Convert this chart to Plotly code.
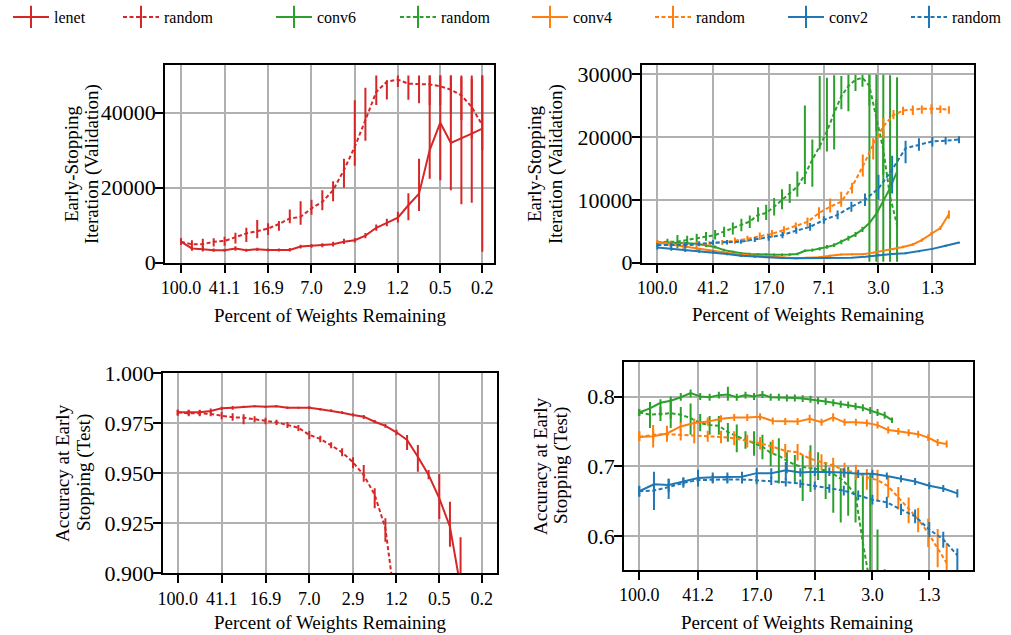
import plotly.graph_objects as go

# ---------------- data ----------------
# Percent of weights remaining at each pruning round
lenet_pct = [100.0, 80.04, 64.06, 51.28, 41.05, 32.87, 26.32, 21.07, 16.88, 13.52, 10.83, 8.68, 6.95, 5.57,
             4.47, 3.58, 2.87, 2.31, 1.85, 1.49, 1.19, 0.960, 0.772, 0.621, 0.500, 0.403, 0.325, 0.263, 0.212]
conv2_pct = [100.0, 80.10, 64.16, 51.41, 41.20, 33.02, 26.47, 21.23, 17.03, 13.66, 10.97, 8.81, 7.08, 5.69,
             4.57, 3.68, 2.97, 2.39, 1.93, 1.56, 1.26, 1.02, 0.825]
conv4_pct = [100.0, 81.08, 65.84, 53.55, 43.63, 35.61, 29.13, 23.88, 19.62, 16.16, 13.35, 11.06, 9.18, 7.65,
             6.40, 5.37, 4.52, 3.81, 3.23, 2.75, 2.34, 2.01, 1.72, 1.49, 1.28, 1.11, 0.969]
conv6_pct = [100.0, 85.07, 72.62, 62.21, 53.46, 46.10, 39.88, 34.60, 30.10, 26.27, 22.98, 20.15, 17.71, 15.60,
             13.77, 12.18, 10.79, 9.57, 8.50, 7.56, 6.74, 6.01, 5.36, 4.79, 4.28, 3.83, 3.43, 3.07, 2.75, 2.47, 2.21]

lenet_tick_labels = ["100.0", "41.1", "16.9", "7.0", "2.9", "1.2", "0.5", "0.2"]
conv_tick_labels = ["100.0", "41.2", "17.0", "7.1", "3.0", "1.3"]

# ---- LeNet: early-stopping iteration (validation) ----
lenet_es = [5600, 3800, 3600, 3300, 3300, 3800, 3300, 3600, 3400, 3400, 3400, 4300, 4500, 4600, 4900, 5600,
            6000, 7200, 9300, 10600, 12000, 15300, 18400, 30000, 37300, 31900, 33100, 34400, 35700]
lenet_es_lo = [4800, 3200, 3000, 2900, 2900, 3200, 2900, 3200, 3000, 3000, 3000, 3800, 4000, 4100, 4300, 5000,
               5400, 6500, 8500, 9700, 10700, 11300, 13800, 22400, 22000, 19300, 15600, 16000, 2900]
lenet_es_hi = [6500, 4300, 4300, 3800, 3700, 4400, 3700, 4000, 3800, 3800, 3900, 4800, 5000, 5200, 5600, 6400,
               6600, 7900, 10200, 11700, 13600, 18500, 27700, 49900, 49900, 49900, 49500, 49000, 49900]
lenet_es_rand = [5600, 4900, 4900, 5600, 5800, 6900, 7800, 8400, 9100, 10300, 11800, 12200, 14500, 16200, 19300,
                 24700, 30900, 38000, 45500, 48200, 48800, 47700, 47700, 47500, 47000, 46100, 44600, 41500, 36600]
lenet_es_rand_lo = [4800, 3400, 3400, 4300, 4500, 5100, 5500, 6500, 7400, 8500, 10500, 10100, 12800, 14000, 16400,
                    20000, 25800, 32500, 42000, 43500, 46800, 43400, 42500, 42000, 42000, 40000, 38000, 33000, 30000]
lenet_es_rand_hi = [6500, 6000, 6400, 6500, 6900, 8000, 9300, 11400, 10500, 11100, 14200, 16400, 16800, 19300, 21700,
                    27700, 43300, 46600, 49900, 48600, 49900, 49900, 49900, 49900, 49900, 49900, 49900, 49900, 49900]

# ---- LeNet: accuracy at early stopping (test) ----
lenet_acc = [0.9805, 0.9805, 0.9805, 0.9812, 0.9825, 0.9828, 0.9833, 0.9835, 0.9833, 0.9835, 0.9828, 0.9828,
             0.9828, 0.9820, 0.9813, 0.9803, 0.9792, 0.9783, 0.9758, 0.9737, 0.9705, 0.9667, 0.9583, 0.9492,
             0.9375, 0.9233, 0.8930, 0.8600, 0.8300]
lenet_acc_lo = [0.9788, 0.9790, 0.9790, 0.9800, 0.9815, 0.9818, 0.9826, 0.9830, 0.9826, 0.9830, 0.9822, 0.9823,
                0.9820, 0.9814, 0.9806, 0.9796, 0.9784, 0.9772, 0.9750, 0.9728, 0.9690, 0.9617, 0.9508, 0.9470,
                0.9272, 0.9133, 0.8600, 0.8300, 0.8000]
lenet_acc_hi = [0.9818, 0.9818, 0.9818, 0.9824, 0.9833, 0.9836, 0.9838, 0.9840, 0.9838, 0.9840, 0.9834, 0.9833,
                0.9836, 0.9826, 0.9820, 0.9810, 0.9800, 0.9792, 0.9766, 0.9746, 0.9718, 0.9692, 0.9642, 0.9517,
                0.9497, 0.9358, 0.9180, 0.8850, 0.8600]
lenet_acc_rand = [0.9805, 0.9800, 0.9800, 0.9797, 0.9788, 0.9780, 0.9778, 0.9770, 0.9763, 0.9755, 0.9742, 0.9728,
                  0.9692, 0.9672, 0.9640, 0.9605, 0.9555, 0.9492, 0.9392, 0.9225, 0.8800, 0.8400, 0.8000, 0.7600,
                  0.7200, 0.6800, 0.6400, 0.6000, 0.5600]
lenet_acc_rand_lo = [0.9790, 0.9785, 0.9785, 0.9785, 0.9770, 0.9763, 0.9745, 0.9755, 0.9745, 0.9742, 0.9727, 0.9712,
                     0.9670, 0.9655, 0.9625, 0.9585, 0.9525, 0.9458, 0.9325, 0.9158, 0.8700, 0.8300, 0.7900, 0.7500,
                     0.7100, 0.6700, 0.6300, 0.5900, 0.5500]
lenet_acc_rand_hi = [0.9818, 0.9815, 0.9815, 0.9810, 0.9808, 0.9800, 0.9795, 0.9785, 0.9778, 0.9768, 0.9757, 0.9742,
                     0.9712, 0.9688, 0.9655, 0.9625, 0.9580, 0.9542, 0.9425, 0.9275, 0.8900, 0.8500, 0.8100, 0.7700,
                     0.7300, 0.6900, 0.6500, 0.6100, 0.5700]

# ---- Conv nets: early-stopping iteration (validation) ----
conv2_es = [2400, 2200, 2000, 1850, 1700, 1400, 1100, 950, 850, 750, 700, 700, 700, 750, 800, 950, 1200, 1400,
            1500, 1800, 2200, 2700, 3200]
conv2_es_lo = [2100, 1900, 1700, 1600, 1450, 1200, 900, 800, 700, 600, 600, 600, 600, 650, 700, 850, 1050, 1250,
               1350, 1650, 2050, 2550, 3050]
conv2_es_hi = [2700, 2500, 2300, 2100, 1950, 1600, 1300, 1100, 1000, 900, 800, 800, 800, 850, 900, 1050, 1350, 1550,
               1650, 1950, 2350, 2850, 3350]
conv2_es_rand = [2800, 2800, 2800, 3000, 3200, 3250, 3350, 3700, 4000, 4400, 5100, 5700, 6800, 7600, 8900, 10000,
                 11800, 14800, 18200, 18800, 19300, 19400, 19600]
conv2_es_rand_lo = [2500, 2400, 2300, 2600, 2800, 2900, 3000, 3300, 3500, 3900, 4600, 5100, 6200, 6900, 8100, 9000,
                    10000, 11000, 15800, 17800, 18500, 18800, 19000]
conv2_es_rand_hi = [3100, 3200, 3300, 3400, 3600, 3600, 3700, 4100, 4500, 4900, 5600, 6300, 7400, 8300, 9700, 11000,
                    14000, 17000, 19400, 19800, 20000, 20000, 20100]

conv4_es = [3200, 2900, 2500, 2200, 1900, 1650, 1400, 1200, 1050, 950, 850, 700, 800, 850, 1100, 1300, 1330, 1350,
            1600, 1900, 2150, 2500, 2900, 3600, 4600, 5500, 7700]
conv4_es_lo = [2900, 2600, 2200, 1900, 1650, 1400, 1200, 1000, 900, 800, 700, 550, 650, 700, 950, 1150, 1180, 1200,
               1450, 1750, 2000, 2300, 2700, 3350, 4300, 5200, 7000]
conv4_es_hi = [3500, 3200, 2800, 2500, 2150, 1900, 1600, 1400, 1200, 1100, 1000, 850, 950, 1000, 1250, 1450, 1480,
               1500, 1750, 2050, 2300, 2700, 3100, 3850, 4900, 5800, 8300]
conv4_es_rand = [3300, 3000, 2800, 2800, 3000, 3200, 3500, 3800, 4200, 4600, 5200, 5800, 6500, 7900, 8900, 9700,
                 12100, 15300, 18800, 21700, 23500, 24200, 24400, 24500, 24500, 24500, 24300]
conv4_es_rand_lo = [3000, 2500, 2200, 2300, 2600, 2800, 3000, 3300, 3600, 4000, 4600, 5200, 5800, 7000, 8000, 8900,
                    11000, 13700, 16400, 19800, 22800, 23500, 23500, 23700, 23600, 23800, 23700]
conv4_es_rand_hi = [3600, 3500, 3400, 3300, 3400, 3600, 4000, 4300, 4800, 5200, 5800, 6400, 7200, 8800, 10200, 11300,
                    12700, 17200, 19800, 23000, 24300, 24800, 25000, 25000, 25200, 25000, 24900]

conv6_es = [3200, 3200, 3150, 3100, 3000, 2800, 2500, 2000, 1700, 1500, 1400, 1300, 1300, 1250, 1250, 1300, 1400,
            1900, 2000, 2200, 2500, 2800, 3300, 3900, 4500, 5300, 6300, 7800, 9800, 11900, 14500]
conv6_es_lo = [2900, 2900, 2850, 2800, 2700, 2500, 2250, 1800, 1500, 1300, 1200, 1100, 1100, 1050, 1050, 1100, 1200,
               1700, 1750, 1950, 2200, 2500, 2950, 3500, 4100, 4900, 150, 150, 150, 150, 150]
conv6_es_hi = [3500, 3500, 3450, 3400, 3300, 3100, 2750, 2200, 1900, 1700, 1600, 1500, 1500, 1450, 1450, 1500, 1600,
               2100, 2250, 2450, 2800, 3100, 3650, 4300, 4900, 5700, 29900, 29900, 29900, 29800, 29500]
conv6_es_rand = [3200, 3350, 3350, 3600, 3900, 4150, 4400, 4950, 5500, 6000, 6550, 7600, 7900, 8900, 10000, 11050,
                 12100, 14000, 16400, 18500, 20900, 23800, 26500, 28100, 29100, 29400, 28100, 23000, 18000, 10500, 6000]
conv6_es_rand_lo = [3000, 2700, 2300, 2900, 3300, 3500, 3700, 4100, 4500, 5000, 5500, 6500, 6800, 7500, 8500, 9500,
                    10500, 12500, 12100, 18000, 17700, 18000, 24400, 24100, 27300, 28000, 25000, 21000, 14000, 7000, 5500]
conv6_es_rand_hi = [3500, 3800, 4400, 4300, 4600, 4900, 5200, 5700, 6400, 7000, 7500, 8800, 9200, 10300, 11700, 12500,
                    14500, 25000, 19600, 29700, 29400, 29800, 29700, 29900, 29900, 29900, 29900, 26000, 21000, 13000, 6500]

# ---- Conv nets: accuracy at early stopping (test) ----
conv2_acc = [0.664, 0.674, 0.673, 0.678, 0.683, 0.684, 0.684, 0.685, 0.690, 0.690, 0.694, 0.691, 0.692, 0.692,
             0.691, 0.689, 0.689, 0.686, 0.682, 0.678, 0.672, 0.668, 0.661]
conv2_acc_lo = [0.656, 0.637, 0.663, 0.672, 0.671, 0.677, 0.677, 0.678, 0.683, 0.682, 0.680, 0.685, 0.686, 0.686,
                0.685, 0.683, 0.683, 0.681, 0.677, 0.673, 0.667, 0.663, 0.655]
conv2_acc_hi = [0.672, 0.692, 0.682, 0.684, 0.695, 0.691, 0.691, 0.692, 0.697, 0.697, 0.706, 0.697, 0.698, 0.698,
                0.697, 0.695, 0.695, 0.691, 0.687, 0.683, 0.677, 0.673, 0.667]
conv2_acc_rand = [0.664, 0.665, 0.670, 0.676, 0.680, 0.681, 0.681, 0.681, 0.680, 0.679, 0.677, 0.675, 0.672, 0.668,
                  0.665, 0.658, 0.652, 0.648, 0.638, 0.628, 0.609, 0.595, 0.572]
conv2_acc_rand_lo = [0.657, 0.658, 0.653, 0.669, 0.674, 0.675, 0.675, 0.675, 0.674, 0.673, 0.671, 0.669, 0.666, 0.662,
                     0.658, 0.651, 0.645, 0.640, 0.630, 0.618, 0.598, 0.583, 0.550]
conv2_acc_rand_hi = [0.671, 0.672, 0.682, 0.683, 0.686, 0.687, 0.687, 0.687, 0.686, 0.685, 0.683, 0.681, 0.678, 0.674,
                     0.672, 0.665, 0.659, 0.656, 0.646, 0.638, 0.620, 0.606, 0.582]

conv4_acc = [0.742, 0.743, 0.747, 0.757, 0.762, 0.764, 0.768, 0.770, 0.770, 0.771, 0.765, 0.764, 0.764, 0.768,
             0.763, 0.770, 0.763, 0.763, 0.762, 0.759, 0.752, 0.750, 0.748, 0.746, 0.741, 0.734, 0.732]
conv4_acc_lo = [0.736, 0.727, 0.735, 0.751, 0.756, 0.758, 0.763, 0.765, 0.765, 0.766, 0.760, 0.759, 0.759, 0.762,
                0.758, 0.764, 0.758, 0.758, 0.757, 0.754, 0.747, 0.745, 0.743, 0.741, 0.736, 0.729, 0.727]
conv4_acc_hi = [0.750, 0.759, 0.758, 0.763, 0.768, 0.770, 0.773, 0.775, 0.775, 0.776, 0.770, 0.769, 0.769, 0.774,
                0.768, 0.776, 0.768, 0.768, 0.767, 0.764, 0.757, 0.755, 0.753, 0.751, 0.746, 0.739, 0.737]
conv4_acc_rand = [0.742, 0.745, 0.746, 0.745, 0.745, 0.743, 0.742, 0.740, 0.736, 0.733, 0.728, 0.722, 0.720, 0.711,
                  0.706, 0.701, 0.694, 0.691, 0.684, 0.680, 0.671, 0.655, 0.639, 0.624, 0.604, 0.581, 0.561]
conv4_acc_rand_lo = [0.736, 0.737, 0.738, 0.737, 0.733, 0.735, 0.733, 0.730, 0.727, 0.724, 0.718, 0.712, 0.708, 0.697,
                     0.695, 0.690, 0.683, 0.680, 0.666, 0.649, 0.655, 0.638, 0.618, 0.605, 0.584, 0.555, 0.545]
conv4_acc_rand_hi = [0.750, 0.753, 0.754, 0.753, 0.757, 0.751, 0.751, 0.750, 0.745, 0.742, 0.738, 0.732, 0.732, 0.722,
                     0.717, 0.712, 0.705, 0.702, 0.696, 0.695, 0.685, 0.670, 0.655, 0.640, 0.625, 0.610, 0.590]

conv6_acc = [0.777, 0.783, 0.791, 0.794, 0.799, 0.805, 0.800, 0.799, 0.802, 0.803, 0.799, 0.802, 0.800, 0.803,
             0.799, 0.799, 0.798, 0.798, 0.797, 0.796, 0.794, 0.793, 0.791, 0.789, 0.788, 0.786, 0.784, 0.780,
             0.777, 0.773, 0.766]
conv6_acc_lo = [0.772, 0.775, 0.772, 0.768, 0.794, 0.799, 0.795, 0.794, 0.797, 0.794, 0.794, 0.797, 0.795, 0.798,
                0.794, 0.794, 0.793, 0.793, 0.792, 0.791, 0.789, 0.788, 0.786, 0.784, 0.783, 0.781, 0.779, 0.775,
                0.772, 0.768, 0.762]
conv6_acc_hi = [0.782, 0.792, 0.796, 0.800, 0.805, 0.810, 0.805, 0.804, 0.807, 0.814, 0.804, 0.807, 0.805, 0.808,
                0.804, 0.804, 0.803, 0.803, 0.802, 0.801, 0.799, 0.798, 0.796, 0.794, 0.793, 0.791, 0.789, 0.785,
                0.782, 0.778, 0.770]
conv6_acc_rand = [0.777, 0.774, 0.775, 0.776, 0.774, 0.769, 0.762, 0.759, 0.758, 0.749, 0.743, 0.738, 0.733, 0.728,
                  0.719, 0.715, 0.708, 0.702, 0.699, 0.697, 0.695, 0.694, 0.689, 0.682, 0.672, 0.658, 0.590, 0.520,
                  0.450, 0.400, 0.350]
conv6_acc_rand_lo = [0.772, 0.755, 0.765, 0.755, 0.762, 0.745, 0.750, 0.745, 0.745, 0.735, 0.720, 0.725, 0.715, 0.710,
                     0.700, 0.675, 0.690, 0.677, 0.650, 0.663, 0.680, 0.653, 0.633, 0.619, 0.629, 0.619, 0.540, 0.480,
                     0.420, 0.360, 0.300]
conv6_acc_rand_hi = [0.782, 0.790, 0.785, 0.797, 0.785, 0.790, 0.775, 0.772, 0.772, 0.762, 0.760, 0.750, 0.750, 0.745,
                     0.735, 0.740, 0.720, 0.716, 0.716, 0.730, 0.720, 0.706, 0.704, 0.697, 0.699, 0.687, 0.689, 0.689,
                     0.609, 0.552, 0.500]

# ---------------- style ----------------
RED, GREEN, ORANGE, BLUE = "#d62728", "#2ca02c", "#ff7f0e", "#1f77b4"
FONT = "Liberation Serif, Times New Roman, DejaVu Serif, serif"
DASH = "4px,2.5px"
W, H = 1011, 635

fig = go.Figure()


def add_series(x, y, lo, hi, color, dash, xa, ya):
    fig.add_trace(go.Scatter(
        x=x, y=y, mode="lines", xaxis=xa, yaxis=ya, showlegend=False,
        line=dict(color=color, width=2, dash=dash),
        error_y=dict(type="data", symmetric=False,
                     array=[h - v for h, v in zip(hi, y)],
                     arrayminus=[v - l for v, l in zip(y, lo)],
                     width=0, thickness=2, color=color),
        hoverinfo="x+y"))


# top-left: LeNet early stopping
add_series(lenet_pct, lenet_es, lenet_es_lo, lenet_es_hi, RED, "solid", "x", "y")
add_series(lenet_pct, lenet_es_rand, lenet_es_rand_lo, lenet_es_rand_hi, RED, DASH, "x", "y")
# top-right: conv early stopping
add_series(conv6_pct, conv6_es, conv6_es_lo, conv6_es_hi, GREEN, "solid", "x2", "y2")
add_series(conv6_pct, conv6_es_rand, conv6_es_rand_lo, conv6_es_rand_hi, GREEN, DASH, "x2", "y2")
add_series(conv4_pct, conv4_es, conv4_es_lo, conv4_es_hi, ORANGE, "solid", "x2", "y2")
add_series(conv4_pct, conv4_es_rand, conv4_es_rand_lo, conv4_es_rand_hi, ORANGE, DASH, "x2", "y2")
add_series(conv2_pct, conv2_es, conv2_es_lo, conv2_es_hi, BLUE, "solid", "x2", "y2")
add_series(conv2_pct, conv2_es_rand, conv2_es_rand_lo, conv2_es_rand_hi, BLUE, DASH, "x2", "y2")
# bottom-left: LeNet accuracy
add_series(lenet_pct, lenet_acc, lenet_acc_lo, lenet_acc_hi, RED, "solid", "x3", "y3")
add_series(lenet_pct, lenet_acc_rand, lenet_acc_rand_lo, lenet_acc_rand_hi, RED, DASH, "x3", "y3")
# bottom-right: conv accuracy
add_series(conv6_pct, conv6_acc, conv6_acc_lo, conv6_acc_hi, GREEN, "solid", "x4", "y4")
add_series(conv6_pct, conv6_acc_rand, conv6_acc_rand_lo, conv6_acc_rand_hi, GREEN, DASH, "x4", "y4")
add_series(conv4_pct, conv4_acc, conv4_acc_lo, conv4_acc_hi, ORANGE, "solid", "x4", "y4")
add_series(conv4_pct, conv4_acc_rand, conv4_acc_rand_lo, conv4_acc_rand_hi, ORANGE, DASH, "x4", "y4")
add_series(conv2_pct, conv2_acc, conv2_acc_lo, conv2_acc_hi, BLUE, "solid", "x4", "y4")
add_series(conv2_pct, conv2_acc_rand, conv2_acc_rand_lo, conv2_acc_rand_hi, BLUE, DASH, "x4", "y4")

# legend entries (each in its own legend so it can be placed like the reference)
legend_names = ["lenet", "random", "conv6", "random", "conv4", "random", "conv2", "random"]
legend_colors = [RED, RED, GREEN, GREEN, ORANGE, ORANGE, BLUE, BLUE]
legend_dash = ["solid", DASH, "solid", DASH, "solid", DASH, "solid", DASH]
legend_left_px = [10, 120, 273, 397, 529, 652, 785, 908]
for i, (nm, col, ds) in enumerate(zip(legend_names, legend_colors, legend_dash)):
    lg = "legend" if i == 0 else f"legend{i + 1}"
    fig.add_trace(go.Scatter(
        x=[None], y=[None], mode="lines+markers", name=nm, legend=lg,
        line=dict(color=col, width=2, dash=ds),
        marker=dict(symbol="line-ns", size=16, color=col, line=dict(color=col, width=2)),
        xaxis="x", yaxis="y", hoverinfo="skip"))
    fig.layout[lg] = dict(x=(legend_left_px[i] - 2) / W, y=1 - 17 / H, xanchor="left", yanchor="middle",
                          orientation="h", bgcolor="rgba(0,0,0,0)", borderwidth=0,
                          font=dict(family=FONT, size=16, color="black"), itemwidth=36)

axis_common = dict(showline=True, linecolor="black", linewidth=1.8, mirror=True,
                   ticks="outside", ticklen=8, tickwidth=1.8, tickcolor="black",
                   showgrid=True, gridcolor="#b0b0b0", gridwidth=1.6, zeroline=False,
                   automargin=False)
xfont = dict(family=FONT, size=18, color="black")
yfont = dict(family=FONT, size=22, color="black")

lenet_tickvals = [lenet_pct[i] for i in range(0, len(lenet_pct), 4)]
conv_tickvals = [conv2_pct[i] for i in range(0, 21, 4)]

fig.update_layout(
    template="none",
    width=W, height=H, margin=dict(l=0, r=0, t=0, b=0, autoexpand=False),
    paper_bgcolor="white", plot_bgcolor="white",
    font=dict(family=FONT, color="black"),
    xaxis=dict(domain=[0.1632, 0.4889], anchor="y", type="log", range=[2.142, -0.780],
               tickvals=lenet_tickvals, ticktext=lenet_tick_labels, tickfont=xfont, **axis_common),
    yaxis=dict(domain=[0.5863, 0.8972], anchor="x", range=[0, 52600], tickformat="d", ticklabelstandoff=-5,
               tickvals=[0, 20000, 40000], tickfont=yfont, **axis_common),
    xaxis2=dict(domain=[0.6347, 0.9634], anchor="y2", type="log", range=[2.108, -0.187],
                tickvals=conv_tickvals, ticktext=conv_tick_labels, tickfont=xfont, **axis_common),
    yaxis2=dict(domain=[0.5863, 0.8972], anchor="x2", range=[0, 31400], tickformat="d", ticklabelstandoff=-5,
                tickvals=[0, 10000, 20000, 30000], tickfont=yfont, **axis_common),
    xaxis3=dict(domain=[0.1615, 0.4913], anchor="y3", type="log", range=[2.127, -0.806],
                tickvals=lenet_tickvals, ticktext=lenet_tick_labels, tickfont=xfont, **axis_common),
    yaxis3=dict(domain=[0.0972, 0.4121], anchor="x3", range=[0.9, 1.0], ticklabelstandoff=-5,
                tickvals=[0.900, 0.925, 0.950, 0.975, 1.000], tickformat=".3f", tickfont=yfont, **axis_common),
    xaxis4=dict(domain=[0.6172, 0.9621], anchor="y4", type="log", range=[2.100, -0.184],
                tickvals=conv_tickvals, ticktext=conv_tick_labels, tickfont=xfont, **axis_common),
    yaxis4=dict(domain=[0.1024, 0.4304], anchor="x4", range=[0.551, 0.850], ticklabelstandoff=-5,
                tickvals=[0.6, 0.7, 0.8], tickformat=".1f", tickfont=yfont, **axis_common),
)

title_font = dict(family=FONT, size=19, color="black")
xtitle = "Percent of Weights Remaining"
for cx, cy in [(330, 315), (808, 314), (330, 622), (797, 622)]:
    fig.add_annotation(text=xtitle, x=cx / W, y=1 - cy / H, xref="paper", yref="paper",
                       showarrow=False, font=title_font, xanchor="center", yanchor="middle")
ytitle_lines = [("Early-Stopping", 72, 164), ("Iteration (Validation)", 92, 164),
                ("Early-Stopping", 535, 164), ("Iteration (Validation)", 556, 164),
                ("Accuracy at Early", 62, 473), ("Stopping (Test)", 84, 473),
                ("Accuracy at Early", 540, 466), ("Stopping (Test)", 561, 466)]
for txt, cx, cy in ytitle_lines:
    fig.add_annotation(text=txt, x=cx / W, y=1 - cy / H, xref="paper", yref="paper", textangle=-90,
                       showarrow=False, font=title_font, xanchor="center", yanchor="middle")

fig.write_html("out.html", config={"displayModeBar": False},
               post_script="document.body.style.margin='0px';")
